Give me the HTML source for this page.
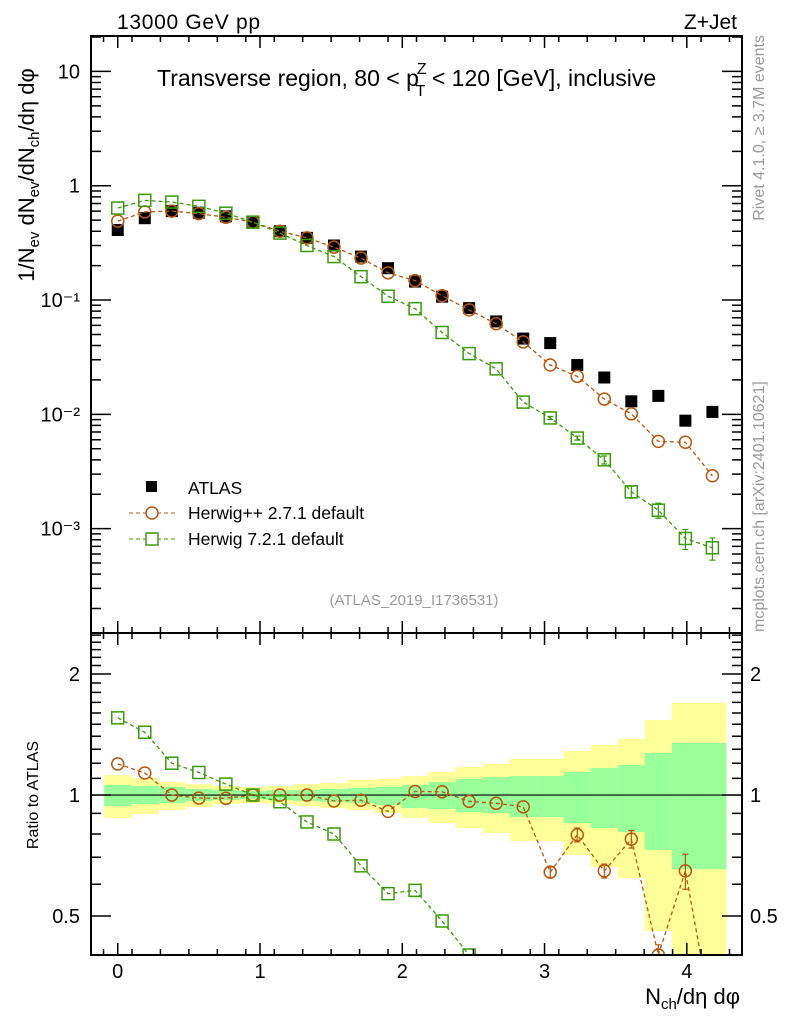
<!DOCTYPE html>
<html><head><meta charset="utf-8"><style>
html,body{margin:0;padding:0;background:#fff;overflow:hidden;width:786px;height:1024px;}
svg{display:block;font-family:"Liberation Sans",sans-serif;}
</style></head><body>
<svg id="c" width="786" height="1024" viewBox="0 0 786 1024" xmlns="http://www.w3.org/2000/svg">
<defs>
<clipPath id="clipMain"><rect x="91" y="36" width="651" height="597"/></clipPath>
<clipPath id="clipRatio"><rect x="91" y="633" width="651" height="322"/></clipPath>
</defs>
<g id="bands" clip-path="url(#clipRatio)"></g>
<g id="marks"></g>
<g id="axes"></g>
<text x="117" y="29" font-size="21" textLength="143">13000 GeV pp</text>
<text x="737" y="29" font-size="21" text-anchor="end">Z+Jet</text>
<text x="157" y="86" font-size="23">Transverse region, 80 &lt; p<tspan font-size="16" dx="-2" dy="-12">Z</tspan><tspan font-size="16" dx="-11" dy="22">T</tspan><tspan dy="-10"> &lt; 120 [GeV], inclusive</tspan></text>
<text x="414" y="605" font-size="15" fill="#999" text-anchor="middle">(ATLAS_2019_I1736531)</text>
<text transform="translate(764,35) rotate(-90)" font-size="16" fill="#999" text-anchor="end">Rivet 4.1.0, ≥ 3.7M events</text>
<text transform="translate(764,632) rotate(-90)" font-size="16" fill="#999">mcplots.cern.ch [arXiv:2401.10621]</text>
<text transform="translate(34,175) rotate(-90)" font-size="22" text-anchor="middle">1/N<tspan font-size="15" dy="5">ev</tspan><tspan dy="-5"> dN</tspan><tspan font-size="15" dy="5">ev</tspan><tspan dy="-5">/dN</tspan><tspan font-size="15" dy="5">ch</tspan><tspan dy="-5">/dη dφ</tspan></text>
<text transform="translate(38,795) rotate(-90)" font-size="16" text-anchor="middle">Ratio to ATLAS</text>
<text x="740" y="1004" font-size="22" text-anchor="end">N<tspan font-size="15" dy="5">ch</tspan><tspan dy="-5">/dη dφ</tspan></text>
<g>
<rect x="146" y="481" width="11" height="11" fill="#000"/>
<text x="188" y="494" font-size="17.5">ATLAS</text>
<line x1="129" y1="513" x2="175" y2="513" stroke="#b8560f" stroke-dasharray="4,3"/>
<circle cx="152" cy="513" r="6" fill="#fff" stroke="#b8560f" stroke-width="1.5"/>
<text x="188" y="519" font-size="17.5">Herwig++ 2.7.1 default</text>
<line x1="129" y1="539" x2="175" y2="539" stroke="#3a9a0a" stroke-dasharray="4,3"/>
<rect x="146" y="533" width="12" height="12" fill="#fff" stroke="#3a9a0a" stroke-width="1.5"/>
<text x="188" y="545" font-size="17.5">Herwig 7.2.1 default</text>
</g>
</svg>
<script>
const xCenters=[0,0.19,0.38,0.57,0.76,0.95,1.14,1.33,1.52,1.71,1.9,2.09,2.28,2.47,2.66,2.85,3.04,3.23,3.42,3.61,3.8,3.99,4.18];
const atlasVals=[0.41,0.52,0.60,0.58,0.54,0.48,0.40,0.35,0.30,0.24,0.19,0.145,0.107,0.085,0.065,0.046,0.042,0.027,0.021,0.013,0.0145,0.0088,0.0105];
const herwigppVals=[0.49,0.59,0.60,0.57,0.53,0.48,0.40,0.35,0.29,0.233,0.173,0.148,0.109,0.082,0.062,0.043,0.027,0.0215,0.0136,0.0101,0.0058,0.0057,0.0029];
const herwigppErr=[0,0,0,0,0,0,0,0,0,0,0,0,0,0,0,0,0.03,0.04,0.04,0.05,0.06,0.1,0.1];
const herwig7Vals=[0.638,0.745,0.72,0.66,0.575,0.48,0.385,0.30,0.24,0.16,0.108,0.084,0.052,0.034,0.025,0.0128,0.0093,0.0062,0.0040,0.0021,0.00145,0.00082,0.00068];
const herwig7Err=[0,0,0,0,0,0,0,0,0,0,0,0,0,0,0,0,0.03,0.04,0.08,0.12,0.15,0.2,0.22];
const yellowUp=[1.121,1.102,1.077,1.065,1.053,1.047,1.053,1.065,1.071,1.090,1.096,1.115,1.141,1.174,1.194,1.229,1.229,1.287,1.332,1.379,1.537,1.694,1.694];
const yellowDn=[0.877,0.897,0.918,0.934,0.950,0.955,0.950,0.939,0.928,0.918,0.902,0.877,0.852,0.828,0.804,0.768,0.768,0.709,0.662,0.622,0.459,0.378,0.378];
const greenUp=[1.059,1.053,1.047,1.035,1.029,1.023,1.029,1.029,1.035,1.041,1.047,1.059,1.077,1.096,1.108,1.115,1.115,1.141,1.168,1.188,1.272,1.347,1.347];
const greenDn=[0.939,0.950,0.955,0.966,0.972,0.977,0.972,0.966,0.961,0.955,0.944,0.928,0.923,0.907,0.902,0.881,0.881,0.852,0.828,0.809,0.730,0.654,0.654];
const xTicks=[0,1,2,3,4];
const mainYTicks=[10,1,0.1,0.01,0.001];
const mainYLabels=["10","1","10\u207B\u00B9","10\u207B\u00B2","10\u207B\u00B3"];
const ratioTicks=[0.5,1,2];
const ratioLabels=["0.5","1","2"];

const NS="http://www.w3.org/2000/svg";
const X0=91,X1=742,MT=36,MB=633,RT=633,RB=955;
const xMin=-0.188,xMax=4.388;
function xs(v){return X0+(v-xMin)/(xMax-xMin)*(X1-X0);}
const yl0=-3.913,yl1=1.31;
function ym(v){return MB-(Math.log10(v)-yl0)/(yl1-yl0)*(MB-MT);}
const rl0=Math.log2(0.40),rl1=Math.log2(2.53);
function yr(v){return RB-(Math.log2(v)-rl0)/(rl1-rl0)*(RB-RT);}
function el(parent,tag,attrs){const e=document.createElementNS(NS,tag);for(const k in attrs)e.setAttribute(k,attrs[k]);parent.appendChild(e);return e;}
const bands=document.getElementById('bands'),marks=document.getElementById('marks'),axes=document.getElementById('axes');
const hw=0.0955;
for(let i=0;i<xCenters.length;i++){
  const a=xs(xCenters[i]-hw),b=xs(xCenters[i]+hw);
  const y1=el(bands,'rect',{x:a,y:yr(yellowUp[i]),width:b-a+0.5,height:yr(yellowDn[i])-yr(yellowUp[i]),fill:'#ffff99'});
  
  
  const g1=el(bands,'rect',{x:a,y:yr(greenUp[i]),width:b-a+0.5,height:yr(greenDn[i])-yr(greenUp[i]),fill:'#99ff99'});
  
  
}
const one=el(marks,'line',{x1:X0,x2:X1,y1:yr(1),y2:yr(1),stroke:'#000','stroke-width':1.2});


function drawSeries(vals,errs,color,shape,yf,clip,name,ref){
  const g=el(marks,'g',{'clip-path':'url(#'+clip+')'});
  
  
  const pts=vals.map((v,i)=>[xs(xCenters[i]),yf(ref?v/ref[i]:v)]);
  const pl=el(g,'polyline',{points:pts.map(p=>p.join(',')).join(' '),fill:'none',stroke:color,'stroke-width':1.3,'stroke-dasharray':'4,3'});
  
  
  vals.forEach((v,i)=>{
    const r=ref?v/ref[i]:v;
    const e=errs[i];
    if(e>0){
      const eb=el(g,'path',{d:`M${pts[i][0]},${yf(r*(1+e))}V${yf(r*(1-e))}M${pts[i][0]-3},${yf(r*(1+e))}h6M${pts[i][0]-3},${yf(r*(1-e))}h6`,stroke:color,'stroke-width':1.2,fill:'none'});
      
      
    }
    let m;
    if(shape==='circle') m=el(g,'circle',{cx:pts[i][0],cy:pts[i][1],r:6,fill:'none',stroke:color,'stroke-width':1.5});
    else m=el(g,'rect',{x:pts[i][0]-6,y:pts[i][1]-6,width:12,height:12,fill:'none',stroke:color,'stroke-width':1.5});
    
    
  });
}
const ga=el(marks,'g',{'clip-path':'url(#clipMain)'});


atlasVals.forEach((v,i)=>{
  const r=el(ga,'rect',{x:xs(xCenters[i])-6,y:ym(v)-6,width:12,height:12,fill:'#000'});
  
  
});
drawSeries(herwigppVals,herwigppErr.map(()=>0),'#b8560f','circle',ym,'clipMain','herwigpp-main',null);
drawSeries(herwig7Vals,herwig7Err,'#3a9a0a','rect',ym,'clipMain','herwig7-main',null);
drawSeries(herwigppVals,herwigppErr,'#b8560f','circle',yr,'clipRatio','herwigpp-ratio',atlasVals);
drawSeries(herwig7Vals,herwig7Err.map(()=>0),'#3a9a0a','rect',yr,'clipRatio','herwig7-ratio',atlasVals);
[[MT,MB],[RT,RB]].forEach((p,k)=>{
  const f=el(axes,'rect',{x:X0,y:p[0],width:X1-X0,height:p[1]-p[0],fill:'none',stroke:'#000','stroke-width':2});
  
  
});
let d='';
[[MT,MB],[RT,RB]].forEach(p=>{
  for(let t=-0.1;t<=4.35;t+=0.2){const x=xs(Math.round(t*10)/10);d+=`M${x},${p[0]}v6M${x},${p[1]}v-6`;}
  xTicks.forEach(t=>{const x=xs(t);d+=`M${x},${p[0]}v12M${x},${p[1]}v-12`;});
});
for(let e=-4;e<=1;e++){for(let m=1;m<=9;m++){const v=m*Math.pow(10,e);const y=ym(v);if(y<MT||y>MB)continue;const L=m===1?20:10;d+=`M${X0},${y}h${L}M${X1},${y}h${-L}`;}}
[0.4,0.5,0.6,0.7,0.8,0.9,1,1.1,1.2,1.3,1.4,1.5,1.6,1.7,1.8,1.9,2,2.1,2.2,2.3,2.4,2.5].forEach(v=>{const y=yr(v);if(y<RT||y>RB)return;const L=ratioTicks.includes(v)?20:10;d+=`M${X0},${y}h${L}M${X1},${y}h${-L}`;});
const tk=el(axes,'path',{d:d,stroke:'#000','stroke-width':1.5,fill:'none'});


xTicks.forEach(t=>{
  const tx=el(axes,'text',{x:xs(t),y:978,'font-size':20,'text-anchor':'middle'});
  tx.textContent=t;
  
  
});
mainYTicks.forEach((v,i)=>{
  const tx=el(axes,'text',{x:80,y:ym(v)+7,'font-size':20,'text-anchor':'end'});
  tx.textContent=mainYLabels[i];
  
  
});
ratioTicks.forEach((v,i)=>{
  const tl=el(axes,'text',{x:80,y:yr(v)+7,'font-size':20,'text-anchor':'end'});
  tl.textContent=ratioLabels[i];
  
  
  const tr=el(axes,'text',{x:750,y:yr(v)+7,'font-size':20});
  tr.textContent=ratioLabels[i];
  
  
});
</script>
</body></html>
